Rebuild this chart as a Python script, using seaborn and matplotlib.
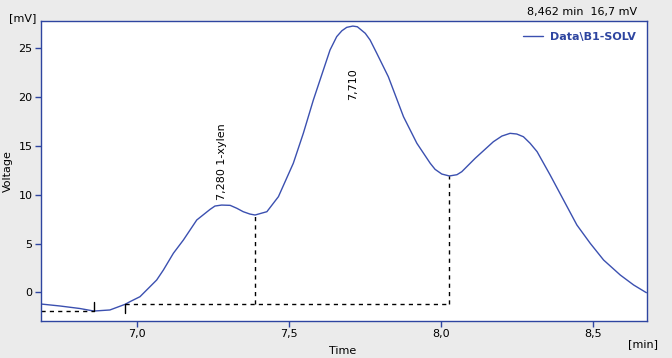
import matplotlib
matplotlib.use("Agg")
import matplotlib.pyplot as plt
import seaborn as sns
import pandas as pd
import numpy as np

# ---- data ----
time_min = [6.683, 6.745, 6.811, 6.857, 6.910, 6.960, 6.976, 7.009, 7.064, 7.086,
            7.119, 7.152, 7.196, 7.240, 7.256, 7.278, 7.306, 7.328, 7.349, 7.371,
            7.388, 7.427, 7.465,
            7.514, 7.547, 7.580, 7.613, 7.635, 7.657, 7.674, 7.690, 7.710, 7.725,
            7.751, 7.767, 7.789, 7.827,
            7.877, 7.921, 7.965, 7.981, 8.003, 8.028, 8.053, 8.069, 8.113, 8.173,
            8.201, 8.228, 8.250, 8.272, 8.294,
            8.317, 8.360, 8.404, 8.448, 8.492, 8.536, 8.591, 8.635, 8.677]
voltage_mv = [-1.20, -1.40, -1.66, -1.92, -1.81, -1.23, -0.96, -0.45, 1.26, 2.28,
              4.00, 5.36, 7.41, 8.50, 8.84, 8.94, 8.91, 8.61, 8.26, 8.02,
              7.92, 8.26, 9.80,
              13.22, 16.29, 19.70, 22.78, 24.83, 26.20, 26.80, 27.15, 27.28, 27.21,
              26.54, 25.85, 24.49, 22.09,
              17.99, 15.27, 13.22, 12.60, 12.12, 11.92, 12.05, 12.36, 13.73, 15.43,
              16.01, 16.29, 16.22, 15.94, 15.27,
              14.41, 12.02, 9.46, 6.90, 5.02, 3.31, 1.77, 0.75, -0.04]

peak_labels = ["7,280 1-xylen", "7,710"]
peak_label_t = [7.280, 7.710]
peak_label_v = [9.45, 19.7]

# baselines and drop lines
base1_t = [6.683, 6.857]
base1_v = [-1.92, -1.92]
base2_t = [6.960, 8.028]
base2_v = [-1.23, -1.23]
drop_t = [7.388, 8.028]
drop_v = [7.92, 11.92]
marker_t = [6.857, 6.960]
marker_lo = [-1.92, -2.15]
marker_hi = [-0.97, -1.23]

x_ticks = [7.0, 7.5, 8.0, 8.5]
x_tick_labels = ["7,0", "7,5", "8,0", "8,5"]
y_ticks = [0, 5, 10, 15, 20, 25]
series_name = "Data\\B1-SOLV"
cursor_text = "8,462 min  16,7 mV"

# ---- style ----
sns.set_style("white")
plt.rcParams['font.family'] = ['DejaVu Sans']
plt.rcParams['text.color'] = 'black'
blue = "#2E45A0"
line_blue = "#3B50B0"
bg = "#EBEBEB"

fig = plt.figure(figsize=(6.72, 3.58), dpi=100, facecolor=bg)
W, H = 672, 358
L, R, T, B = 41, 647, 21, 321
ax = fig.add_axes([L / W, (H - B) / H, (R - L) / W, (B - T) / H])
ax.set_facecolor("white")

df = pd.DataFrame({"Time": time_min, "Voltage": voltage_mv, "series": series_name})
sns.lineplot(data=df, x="Time", y="Voltage", hue="series", palette=[line_blue],
             linewidth=1.0, ax=ax, sort=False, estimator=None)

dash = dict(color="black", linewidth=1.0, linestyle=(0, (3, 3)))
ax.plot(base1_t, base1_v, **dash)
ax.plot(base2_t, base2_v, **dash)
for t, v in zip(drop_t, drop_v):
    ax.plot([t, t], [base2_v[0], v], **dash)
for t, lo, hi in zip(marker_t, marker_lo, marker_hi):
    ax.plot([t, t], [lo, hi], color="black", linewidth=1.0)

for lab, t, v in zip(peak_labels, peak_label_t, peak_label_v):
    ax.text(t, v, lab, rotation=90, ha="center", va="bottom", fontsize=8, color="black")

ax.set_xlim(6.683, 8.679)
ax.set_ylim(-2.94, 27.8)
ax.set_xticks(x_ticks)
ax.set_xticklabels(x_tick_labels)
ax.set_yticks(y_ticks)
ax.set_yticklabels([str(v) for v in y_ticks])
ax.tick_params(axis="both", direction="out", length=4, width=1, color=blue,
               labelsize=8, labelcolor="black", pad=2, bottom=True, left=True)
for s in ax.spines.values():
    s.set_color(blue)
    s.set_linewidth(1.0)
    s.set_visible(True)

ax.set_xlabel("")
ax.set_ylabel("")
tk = dict(fontsize=8, color="black")
fig.text(8 / W, 1 - 171 / H, "Voltage", rotation=90, ha="center", va="center", **tk)
fig.text(343 / W, 1 - 351 / H, "Time", ha="center", va="center", **tk)
fig.text(643 / W, 1 - 344 / H, "[min]", ha="center", va="center", **tk)
fig.text(23 / W, 1 - 18 / H, "[mV]", ha="center", va="center", **tk)
fig.text(582 / W, 1 - 12 / H, cursor_text, ha="center", va="center", **tk)

leg = ax.legend(loc="upper right", frameon=False, fontsize=8, handlelength=1.8,
                borderaxespad=0.6, handletextpad=0.6)
for txt in leg.get_texts():
    txt.set_color(blue)
    txt.set_fontweight("bold")

fig.savefig("out.png", dpi=100, facecolor=bg)
